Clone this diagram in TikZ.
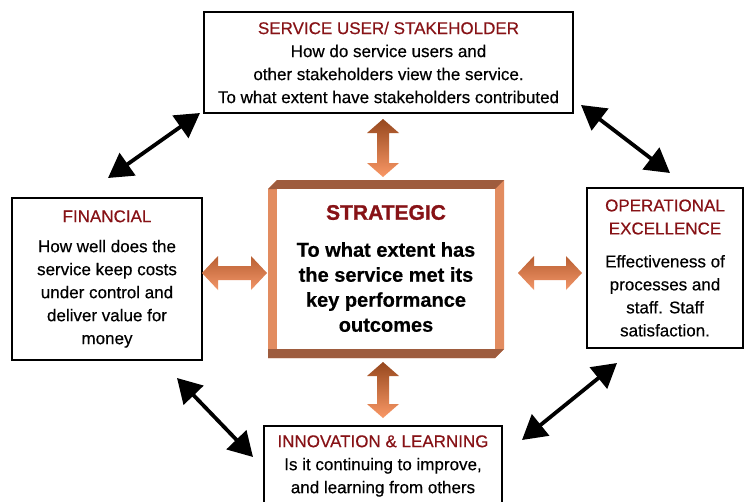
\documentclass[tikz,border=0pt]{standalone}
\usepackage{fontspec}
\setmainfont{Liberation Sans}[FakeBold=0.5]
\newfontfamily\heavyfont{Liberation Sans Bold}[FakeBold=1.2]
\newfontfamily\strongfont{Liberation Sans Bold}[FakeBold=0.4]
\newfontfamily\bodyfont{Liberation Sans}[FakeStretch=1.0,FakeBold=0.45]
\usetikzlibrary{arrows.meta}
\definecolor{titlered}{RGB}{135,18,22}
\definecolor{framedark}{RGB}{158,92,62}
\definecolor{framelight}{RGB}{226,140,96}
\definecolor{arrdark}{RGB}{150,72,30}
\definecolor{arrlight}{RGB}{250,152,102}
\definecolor{harrdark}{RGB}{185,95,50}
\definecolor{harrlight}{RGB}{242,150,105}
\begin{document}
\begin{tikzpicture}[x=1pt,y=-1pt,
  box/.style={draw=black,line width=1.6pt,fill=white,inner sep=0pt,align=center,
    font=\bodyfont\fontsize{17}{23}\selectfont},
  blkarrow/.style={line width=3.8pt,{Triangle[length=24pt,width=27pt]}-{Triangle[length=24pt,width=27pt]}},
  vshade/.style={top color=arrdark,bottom color=arrlight},
  hshade/.style={top color=harrdark,bottom color=harrlight}]
\useasboundingbox (0,0) rectangle (744,501);
\clip (0,0) rectangle (744,501);
\fill[white] (0,0) rectangle (744,501);

% boxes
\node[box,minimum width=369pt,minimum height=101pt] (su) at (388.5,62.5)
  {\textcolor{titlered}{SERVICE USER/ STAKEHOLDER}\\How do service users and\\other stakeholders view the service.\\To what extent have stakeholders contributed};
\node[box,minimum width=190pt,minimum height=162pt] (fin) at (107,279)
  {\textcolor{titlered}{FINANCIAL}\\[7pt]How well does the\\service keep costs\\under control and\\deliver value for\\money};
\node[box,minimum width=156pt,minimum height=160pt] (op) at (665,268)
  {\textcolor{titlered}{OPERATIONAL}\\\textcolor{titlered}{EXCELLENCE}\\[10pt]Effectiveness of\\processes and\\staff. Staff\\satisfaction.};
\node[box,minimum width=238pt,minimum height=80pt] (inn) at (383,466)
  {\textcolor{titlered}{INNOVATION \& LEARNING}\\Is it continuing to improve,\\and learning from others};

% strategic bevel frame
\fill[framelight] (268,189) -- (277,180) -- (504,180) -- (504,349) -- (495,358) -- (268,358) -- cycle;
\fill[framedark] (268,189) -- (277,180) -- (504,180) -- (495,189) -- cycle;
\fill[framedark] (268,358) -- (495,358) -- (504,349) -- (277,349) -- (268,349) -- cycle;
\node[fill=white,inner sep=0pt,minimum width=218pt,minimum height=160pt,align=center,
  font=\strongfont\fontsize{20}{25}\selectfont] (strat) at (386,268.5)
  {{\heavyfont\fontsize{21}{25}\selectfont\textcolor{titlered}{STRATEGIC}}\\[12pt]To what extent has\\the service met its\\key performance\\outcomes};

% orange block arrows
\shade[vshade] (383,119) -- (399,133) -- (389,133) -- (389,163) -- (399,163) -- (383,177)
  -- (367,163) -- (377,163) -- (377,133) -- (367,133) -- cycle;
\shade[vshade] (383,362) -- (399,376) -- (389,376) -- (389,404) -- (399,404) -- (383,418)
  -- (367,404) -- (377,404) -- (377,376) -- (367,376) -- cycle;
\shade[hshade] (202,273) -- (218,256) -- (218,266) -- (251,266) -- (251,256) -- (267,273)
  -- (251,290) -- (251,280) -- (218,280) -- (218,290) -- cycle;
\shade[hshade] (518,273) -- (534,256) -- (534,266) -- (566,266) -- (566,256) -- (582,273)
  -- (566,290) -- (566,280) -- (534,280) -- (534,290) -- cycle;

% black arrows
\coordinate (tl1) at (108,178); \coordinate (tl2) at (200,113);
\coordinate (tr1) at (581,105); \coordinate (tr2) at (670,173);
\coordinate (bl1) at (177,378); \coordinate (bl2) at (253,457);
\coordinate (br1) at (617,363); \coordinate (br2) at (522,440);
\draw[blkarrow] (tl1) -- (tl2);
\draw[blkarrow] (tr1) -- (tr2);
\draw[blkarrow] (bl1) -- (bl2);
\draw[blkarrow] (br1) -- (br2);
\end{tikzpicture}
\end{document}
